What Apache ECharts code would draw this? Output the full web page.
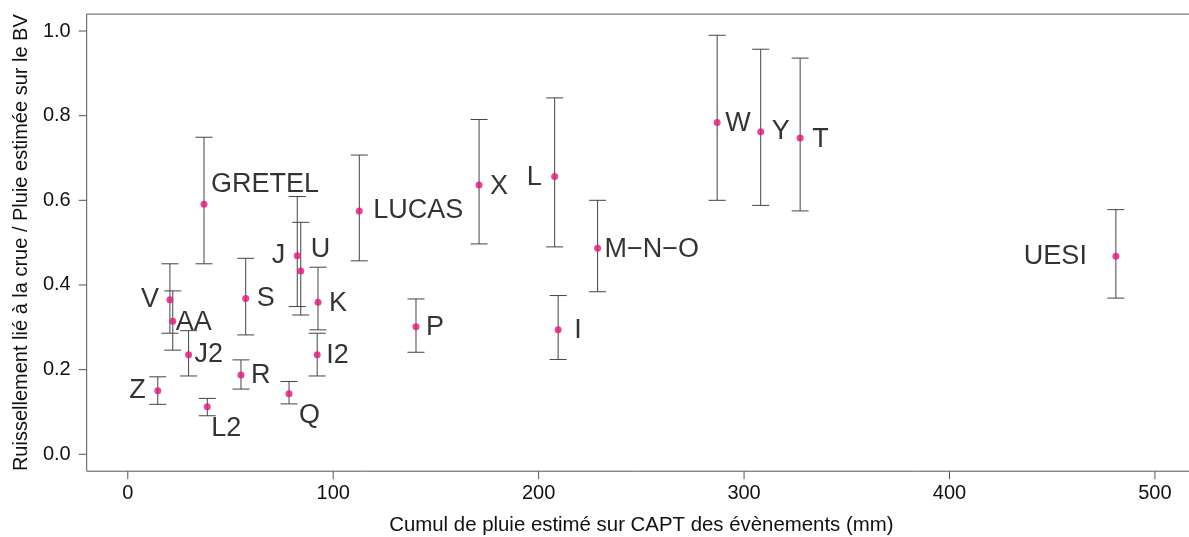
<!DOCTYPE html>
<html><head><meta charset="utf-8">
<script src="https://cdn.jsdelivr.net/npm/echarts@6/dist/echarts.min.js"></script>
<style>html,body{margin:0;padding:0;background:#fff}#c{width:1189px;height:537px}</style>
</head><body><div id="c"></div>
<script>
// ---- data ----
const names = ['GRETEL','J','U','V','AA','J2','Z','L2','S','R','Q','K','I2','LUCAS','P','X','L','I','M\u2212N\u2212O','W','Y','T','UESI'];
const rain  = [37.1, 82.5, 84.2, 20.5, 21.9, 29.6, 14.6, 38.7, 57.4, 55.1, 78.5, 92.6, 92.2, 112.7, 140.3, 171.0, 207.8, 209.5, 228.7, 286.9, 308.1, 327.3, 481.0];
const ratio = [0.591, 0.469, 0.433, 0.365, 0.314, 0.235, 0.150, 0.112, 0.368, 0.187, 0.143, 0.359, 0.235, 0.575, 0.301, 0.636, 0.656, 0.294, 0.487, 0.784, 0.762, 0.747, 0.468];
const lower = [0.450, 0.349, 0.329, 0.286, 0.246, 0.185, 0.118, 0.091, 0.282, 0.154, 0.119, 0.294, 0.185, 0.457, 0.241, 0.497, 0.490, 0.224, 0.384, 0.600, 0.588, 0.575, 0.369];
const upper = [0.749, 0.609, 0.548, 0.450, 0.386, 0.292, 0.183, 0.132, 0.463, 0.223, 0.172, 0.442, 0.286, 0.707, 0.367, 0.791, 0.842, 0.375, 0.600, 0.990, 0.957, 0.936, 0.578];
const xTicks = [0, 100, 200, 300, 400, 500];
const yTicks = [0, 0.2, 0.4, 0.6, 0.8, 1.0];
const xRange = [-20, 520];
const yRange = [-0.04, 1.04];

// ---- label placement (style only): side, dx, dy in px ----
const labelPlace = {
  'GRETEL':['r',7,-20], 'J':['l',12,0], 'U':['r',10,-21], 'V':['l',11,0], 'AA':['r',3,1],
  'J2':['r',6,0], 'Z':['l',12,0], 'L2':['r',4,22], 'S':['r',11,0], 'R':['r',10,0],
  'Q':['r',10,22], 'K':['r',11,1], 'I2':['r',9,1], 'LUCAS':['r',14,0], 'P':['r',10,1],
  'X':['r',11,1], 'L':['l',13,1], 'I':['r',16,1], 'M\u2212N\u2212O':['r',7,1], 'W':['r',8,1],
  'Y':['r',11,0], 'T':['r',12,1], 'UESI':['l',29,0]
};

const FONT = 'Liberation Sans, Arial, sans-serif';
const TICK_LEN = 8;
const TICK_COLOR = '#555';
const pointData = names.map((n, i) => {
  const p = labelPlace[n];
  return {
    name: n,
    value: [rain[i], ratio[i]],
    label: {
      show: true, formatter: n, position: 'inside',
      align: p[0] === 'r' ? 'left' : 'right', verticalAlign: 'middle',
      offset: [p[0] === 'r' ? p[1] : -p[1], p[2]]
    }
  };
});
const barData = names.map((n, i) => [rain[i], lower[i], upper[i]]);

const chart = echarts.init(document.getElementById('c'), null, {renderer: 'canvas'});
chart.setOption({
  animation: false,
  grid: {left: 86.7, right: -7, top: 14.1, bottom: 65.8, show: true, borderColor: '#555', borderWidth: 1,
         backgroundColor: 'transparent', outerBoundsMode: 'none'},
  xAxis: {
    type: 'value', min: xRange[0], max: xRange[1],
    axisLine: {show: false, onZero: false}, splitLine: {show: false},
    axisTick: {show: false},
    axisLabel: {customValues: xTicks, fontSize: 20, margin: 12, color: '#111', fontFamily: FONT},
    name: 'Cumul de pluie estimé sur CAPT des évènements (mm)', nameLocation: 'middle', nameGap: 44,
    nameTextStyle: {fontSize: 20.4, color: '#111', fontFamily: FONT}
  },
  yAxis: {
    type: 'value', min: yRange[0], max: yRange[1],
    axisLine: {show: false, onZero: false}, splitLine: {show: false},
    axisTick: {show: false},
    axisLabel: {customValues: yTicks, fontSize: 20, margin: 16, color: '#111', fontFamily: FONT, formatter: v => v.toFixed(1)},
    name: 'Ruissellement lié à la crue / Pluie estimée sur le BV', nameLocation: 'middle', nameGap: 55, nameRotate: 90,
    nameTextStyle: {fontSize: 20, color: '#111', fontFamily: FONT}
  },
  series: [
    {
      type: 'custom', data: barData, encode: {x: 0, y: [1, 2]}, clip: false,
      renderItem: function (params, api) {
        const x = api.value(0);
        const a = api.coord([x, api.value(1)]);
        const b = api.coord([x, api.value(2)]);
        const w = 8.5;
        const st = {stroke: '#444', lineWidth: 1, fill: null};
        return {type: 'group', children: [
          {type: 'line', shape: {x1: a[0], y1: a[1], x2: b[0], y2: b[1]}, style: st},
          {type: 'line', shape: {x1: a[0] - w, y1: a[1], x2: a[0] + w, y2: a[1]}, style: st},
          {type: 'line', shape: {x1: b[0] - w, y1: b[1], x2: b[0] + w, y2: b[1]}, style: st}
        ]};
      }
    },
    {
      type: 'scatter', data: pointData, symbol: 'circle', symbolSize: 7, z: 3,
      itemStyle: {color: '#e8127c', borderWidth: 0},
      label: {show: true, fontSize: 27, color: '#000', fontFamily: FONT, textBorderWidth: 0},
      emphasis: {disabled: true}
    }
  ]
});

// axis tick marks: positions come from the chart's own axis scales
const tickEls = [];
xTicks.forEach(v => {
  const p = chart.convertToPixel({gridIndex: 0}, [v, yRange[0]]);
  tickEls.push({type: 'line', silent: true, z: 100,
    shape: {x1: p[0], y1: p[1], x2: p[0], y2: p[1] + TICK_LEN},
    style: {stroke: TICK_COLOR, lineWidth: 1}});
});
yTicks.forEach(v => {
  const p = chart.convertToPixel({gridIndex: 0}, [xRange[0], v]);
  tickEls.push({type: 'line', silent: true, z: 100,
    shape: {x1: p[0] - TICK_LEN, y1: p[1], x2: p[0], y2: p[1]},
    style: {stroke: TICK_COLOR, lineWidth: 1}});
});
chart.setOption({graphic: {elements: tickEls}});
</script>
</body></html>
